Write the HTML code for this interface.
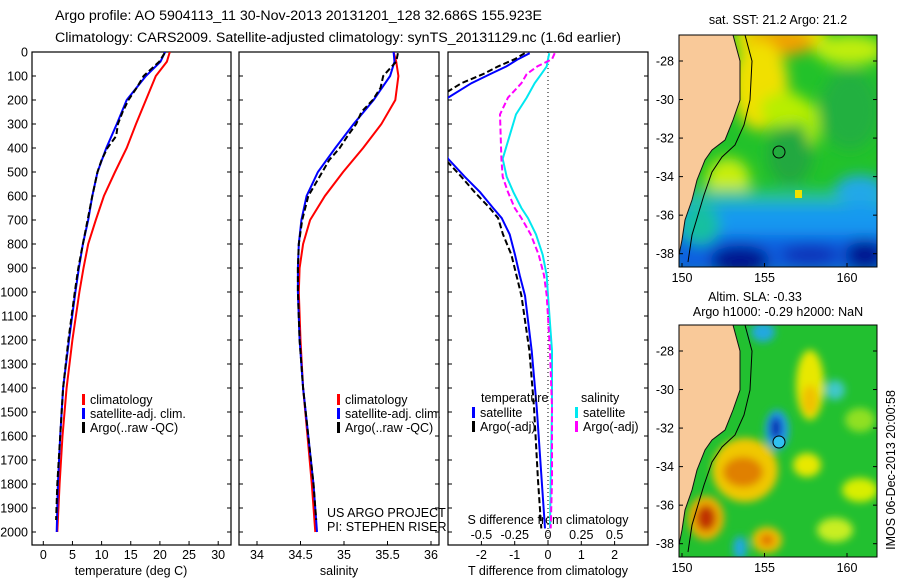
<!DOCTYPE html>
<html><head><meta charset="utf-8">
<style>
html,body{margin:0;padding:0;background:#fff;}
body{width:900px;height:580px;overflow:hidden;font-family:"Liberation Sans",sans-serif;}
svg text{font-family:"Liberation Sans",sans-serif;font-size:12.5px;fill:#000;}
svg text.ttl{font-size:14.2px;}
</style></head>
<body>
<svg id="fig" width="900" height="580" viewBox="0 0 900 580" xmlns="http://www.w3.org/2000/svg">
<defs>
<clipPath id="cp1"><rect x="32" y="52" width="199" height="493"/></clipPath>
<clipPath id="cp2"><rect x="239" y="52" width="200" height="493"/></clipPath>
<clipPath id="cp3"><rect x="448" y="52" width="200" height="493"/></clipPath>
<clipPath id="cmTop"><rect x="679" y="35" width="198" height="232"/></clipPath>
<clipPath id="cmBot"><rect x="679" y="325" width="198" height="232"/></clipPath>
<filter id="bl" x="-50%" y="-50%" width="200%" height="200%"><feGaussianBlur stdDeviation="7"/></filter>
<filter id="bl2" x="-50%" y="-50%" width="200%" height="200%"><feGaussianBlur stdDeviation="4"/></filter>
</defs>
<text class="ttl" x="55" y="20">Argo profile: AO 5904113_11 30-Nov-2013 20131201_128 32.686S 155.923E</text>
<text class="ttl" x="55" y="42">Climatology: CARS2009. Satellite-adjusted climatology: synTS_20131129.nc (1.6d earlier)</text>

<!-- SST map -->
<g>
<g clip-path="url(#cmTop)">
<rect x="679" y="35" width="198" height="232" fill="#22c22a"/>
<g filter="url(#bl)">
<rect x="735" y="25" width="90" height="25" fill="#e8e800"/>
<ellipse cx="850" cy="50" rx="35" ry="15" fill="#c0ee10"/>
<ellipse cx="780" cy="42" rx="35" ry="14" fill="#f0a000"/>
<ellipse cx="760" cy="85" rx="28" ry="45" fill="#f0e000"/>
<ellipse cx="785" cy="110" rx="25" ry="18" fill="#b8ee00"/>
<ellipse cx="812" cy="125" rx="7" ry="22" fill="#b8ee00"/>
<ellipse cx="728" cy="180" rx="22" ry="22" fill="#c8ee10"/>
<ellipse cx="790" cy="155" rx="22" ry="30" fill="#20a840"/>
<ellipse cx="850" cy="110" rx="30" ry="40" fill="#20b040"/>
<rect x="670" y="190" width="230" height="20" fill="#28c0a0"/>
<rect x="670" y="205" width="230" height="35" fill="#1898f0"/>
<ellipse cx="860" cy="190" rx="25" ry="15" fill="#20a8e8"/>
<rect x="670" y="235" width="230" height="40" fill="#1060e0"/>
<ellipse cx="740" cy="260" rx="30" ry="15" fill="#001890"/>
<ellipse cx="810" cy="255" rx="30" ry="10" fill="#0830b8"/>
<ellipse cx="865" cy="255" rx="20" ry="15" fill="#001890"/>
<ellipse cx="700" cy="225" rx="20" ry="20" fill="#18c0a0"/>
</g>
<rect x="795" y="190" width="7" height="8" fill="#f0e000"/>
<polygon points="679,35 733,35 740,61 740,100 733,120 725,140 712,150 705,160 697,180 692,200 685,220 682,240 679,255" fill="#f9c999"/>
<polyline points="733,35 740,61 740,100 733,120 725,140 712,150 705,160 697,180 692,200 685,220 682,240 679,255" fill="none" stroke="#111" stroke-width="1"/>
<polyline points="745,35 752,61 750,100 744,125 735,145 722,157 712,172 704,195 698,215 692,235 688,262" fill="none" stroke="#000" stroke-width="1"/>
<circle cx="779" cy="152" r="6" fill="none" stroke="#000" stroke-width="1"/>
</g>
<rect x="679" y="35" width="198" height="232" fill="none" stroke="#000"/>
</g>

<!-- SLA map -->
<g>
<g clip-path="url(#cmBot)">
<rect x="679" y="325" width="198" height="232" fill="#22c030"/>
<g filter="url(#bl2)">
<ellipse cx="763" cy="332" rx="12" ry="10" fill="#20a8e0"/>
<ellipse cx="810" cy="385" rx="14" ry="35" fill="#e8e800"/>
<ellipse cx="810" cy="400" rx="8" ry="15" fill="#f0c000"/>
<ellipse cx="835" cy="390" rx="10" ry="10" fill="#40c8c8"/>
<ellipse cx="745" cy="470" rx="33" ry="32" fill="#f0c800"/>
<ellipse cx="743" cy="472" rx="20" ry="15" fill="#e08000"/>
<ellipse cx="777" cy="430" rx="12" ry="20" fill="#20a0f0"/>
<ellipse cx="776" cy="428" rx="6" ry="12" fill="#1028b0"/>
<ellipse cx="706" cy="518" rx="18" ry="22" fill="#f0b000"/>
<ellipse cx="706" cy="518" rx="10" ry="13" fill="#c03000"/>
<ellipse cx="767" cy="540" rx="15" ry="13" fill="#f0c000"/>
<ellipse cx="767" cy="540" rx="7" ry="6" fill="#e07000"/>
<ellipse cx="807" cy="465" rx="14" ry="12" fill="#e8e800"/>
<ellipse cx="860" cy="490" rx="18" ry="12" fill="#d8ee00"/>
<ellipse cx="835" cy="530" rx="18" ry="12" fill="#c8ee20"/>
<ellipse cx="740" cy="548" rx="7" ry="12" fill="#20a8e0"/>
<ellipse cx="860" cy="420" rx="15" ry="12" fill="#90e020"/>
</g>
<polygon points="679,325 733,325 740,351 740,390 733,410 725,430 712,440 705,450 697,470 692,490 685,510 682,530 679,545" fill="#f9c999"/>
<polyline points="733,325 740,351 740,390 733,410 725,430 712,440 705,450 697,470 692,490 685,510 682,530 679,545" fill="none" stroke="#111" stroke-width="1"/>
<polyline points="745,325 752,351 750,390 744,415 735,435 722,447 712,462 704,485 698,505 692,525 688,552" fill="none" stroke="#000" stroke-width="1"/>
<circle cx="779" cy="442" r="6" fill="#30c0f0" stroke="#000" stroke-width="1"/>
</g>
<rect x="679" y="325" width="198" height="232" fill="none" stroke="#000"/>
</g>
<text x="778" y="24" text-anchor="middle">sat. SST: 21.2 Argo: 21.2</text>
<text x="755" y="301" text-anchor="middle">Altim. SLA: -0.33</text>
<text x="778" y="316" text-anchor="middle">Argo h1000: -0.29 h2000: NaN</text>
<text transform="translate(895,470) rotate(-90)" text-anchor="middle">IMOS 06-Dec-2013 20:00:58</text>

<g id="charts"></g>
</svg>
<script>
// ---- data ----
var depthClim = [0,40,100,200,300,400,500,600,700,800,900,1000,1200,1400,1600,1800,2000];
var tempClim  = [21.7,21.2,19.3,17.6,15.9,14.3,12.3,10.4,9.0,7.7,6.9,6.2,5.0,4.0,3.3,2.8,2.4];
var tempSat   = [20.9,20.1,17.6,14.3,12.6,10.8,9.3,8.4,7.7,6.8,6.1,5.5,4.4,3.4,2.9,2.5,2.3];
var depthArgo = [5,40,100,150,200,250,300,350,400,450,500,600,700,800,900,1000,1200,1400,1600,1800,1950];
var tempArgo  = [20.8,19.9,17.2,16.0,14.6,13.6,12.8,12.5,11.0,10.0,9.3,8.4,7.6,6.8,6.0,5.4,4.3,3.4,2.9,2.4,2.2];
var salClim   = [35.57,35.60,35.625,35.59,35.43,35.22,34.99,34.78,34.61,34.53,34.49,34.48,34.50,34.53,34.58,34.63,34.67];
var salSat    = [35.57,35.58,35.53,35.34,35.11,34.90,34.70,34.57,34.51,34.48,34.47,34.47,34.49,34.53,34.59,34.65,34.69];
var salArgo   = [35.62,35.60,35.45,35.42,35.33,35.20,35.14,35.04,34.95,34.83,34.75,34.59,34.52,34.48,34.47,34.47,34.49,34.53,34.59,34.65,34.68];
var depthDiff = [5,30,60,92,130,190,260,445,520,584,650,692,760,845,930,1015,1245,1480,1785,1985];
var tDiffSat  = [-0.55,-0.9,-1.25,-1.74,-2.3,-3.0,-3.6,-3.0,-2.5,-2.04,-1.65,-1.39,-1.15,-0.99,-0.85,-0.69,-0.49,-0.34,-0.19,-0.09];
var tDiffArgo = [-0.7,-1.0,-1.5,-1.95,-2.6,-3.3,-3.7,-3.1,-2.6,-2.2,-1.75,-1.5,-1.35,-1.1,-0.95,-0.8,-0.56,-0.42,-0.3,-0.2];
var sDiffSat  = [0.01,0.0,-0.01,-0.05,-0.1,-0.16,-0.24,-0.34,-0.31,-0.26,-0.2,-0.15,-0.09,-0.04,-0.01,0.0,0.03,0.03,0.02,0.015];
var sDiffArgo = [0.05,0.03,-0.08,-0.16,-0.2,-0.3,-0.36,-0.35,-0.34,-0.3,-0.25,-0.2,-0.13,-0.07,-0.03,-0.01,0.015,0.03,0.03,0.02];
var depthTicks = [0,100,200,300,400,500,600,700,800,900,1000,1100,1200,1300,1400,1500,1600,1700,1800,1900,2000];
var tempTicks = [0,5,10,15,20,25,30];
var salTicks = ["34","34.5","35","35.5","36"];
var tDiffTicks = [-2,-1,0,1,2];
var sDiffTicks = ["-0.5","-0.25","0","0.25","0.5"];

// ---- scales ----
function yD(d){return 52 + d*0.24;}
function xT(t){return 43.3 + t*5.83;}
function xS(s){return 257 + (s-34)*87;}
function xTd(t){return 548 + t*33.3;}
function xSd(s){return 548 + s*133.2;}

var NS="http://www.w3.org/2000/svg";
var root=document.getElementById('charts');
function el(tag,attrs,parent){var e=document.createElementNS(NS,tag);for(var k in attrs)e.setAttribute(k,attrs[k]);(parent||root).appendChild(e);return e;}
function line(xs,ys,xf,color,dash,clip,name){
  var pts=[];for(var i=0;i<xs.length;i++)pts.push(xf(xs[i]).toFixed(1)+","+yD(ys[i]).toFixed(1));
  var p=el('polyline',{points:pts.join(' '),fill:'none',stroke:color,'stroke-width':2,'clip-path':'url(#'+clip+')'});
  if(dash)p.setAttribute('stroke-dasharray',dash);
  
  
}
function txt(x,y,s,anchor,name){var t=el('text',{x:x,y:y,'text-anchor':anchor||'start'});t.textContent=s;
  
  
  return t;}

// frames
var frames=[[32,231,'temperature-panel-frame'],[239,439,'salinity-panel-frame'],[448,648,'difference-panel-frame']];
frames.forEach(function(f){
  var r=el('rect',{x:f[0],y:52,width:f[1]-f[0],height:493,fill:'none',stroke:'#000','stroke-width':1.2});
  
  
  depthTicks.forEach(function(d){
    var tk=el('line',{x1:f[0],x2:f[0]+4,y1:yD(d),y2:yD(d),stroke:'#000'});
    
    
    var tk2=el('line',{x1:f[1],x2:f[1]-4,y1:yD(d),y2:yD(d),stroke:'#000'});
    
    
  });
});
depthTicks.forEach(function(d){txt(28,yD(d)+4.5,String(d),'end','depth-tick-label');});

// temperature panel
tempTicks.forEach(function(t){
  var tk=el('line',{x1:xT(t),x2:xT(t),y1:545,y2:541,stroke:'#000'});
  
  
  txt(xT(t),559,String(t),'middle','temperature-tick-label');
});
txt(131,575,'temperature (deg C)','middle','temperature-axis-title');
line(tempClim,depthClim,xT,'#ff0000',null,'cp1','temperature-climatology-line');
line(tempSat,depthClim,xT,'#0000ff',null,'cp1','temperature-satellite-line');
line(tempArgo,depthArgo,xT,'#000000','6,3','cp1','temperature-argo-line');

// salinity panel
salTicks.forEach(function(s){
  var v=parseFloat(s);
  var tk=el('line',{x1:xS(v),x2:xS(v),y1:545,y2:541,stroke:'#000'});
  
  
  txt(xS(v),559,s,'middle','salinity-tick-label');
});
txt(339,575,'salinity','middle','salinity-axis-title');
line(salClim,depthClim,xS,'#ff0000',null,'cp2','salinity-climatology-line');
line(salSat,depthClim,xS,'#0000ff',null,'cp2','salinity-satellite-line');
line(salArgo,depthArgo,xS,'#000000','6,3','cp2','salinity-argo-line');

// difference panel
var z=el('line',{x1:548,x2:548,y1:52,y2:545,stroke:'#000','stroke-dasharray':'1,3'});


tDiffTicks.forEach(function(t){
  var tk=el('line',{x1:xTd(t),x2:xTd(t),y1:545,y2:541,stroke:'#000'});
  
  
  txt(xTd(t),559,String(t),'middle','t-diff-tick-label');
});
sDiffTicks.forEach(function(s){txt(xSd(parseFloat(s)),539,s,'middle','s-diff-tick-label');});
txt(548,524,'S difference from climatology','middle','s-diff-axis-title');
txt(548,575,'T difference from climatology','middle','t-diff-axis-title');
line(tDiffSat,depthDiff,xTd,'#0000ff',null,'cp3','t-diff-satellite-line');
line(tDiffArgo,depthDiff,xTd,'#000000','6,3','cp3','t-diff-argo-line');
line(sDiffSat,depthDiff,xSd,'#00e8f0',null,'cp3','s-diff-satellite-line');
line(sDiffArgo,depthDiff,xSd,'#ff00ff','6,3','cp3','s-diff-argo-line');

// legends
function leg(x,y,color,label,name){
  var m=el('rect',{x:x,y:y-9,width:3,height:11,fill:color});
  
  
  txt(x+8,y+1,label,'start',name);
}
leg(82,403,'#ff0000','climatology','legend-climatology');
leg(82,417,'#0000ff','satellite-adj. clim.','legend-satellite');
leg(82,431,'#000000','Argo(..raw -QC)','legend-argo');
leg(337,403,'#ff0000','climatology','legend-sal-climatology');
leg(337,417,'#0000ff','satellite-adj. clim.','legend-sal-satellite');
leg(337,431,'#000000','Argo(..raw -QC)','legend-sal-argo');
txt(481,402,'temperature','start','legend-temperature-header');
txt(581,402,'salinity','start','legend-salinity-header');
leg(472,416,'#0000ff','satellite','legend-t-satellite');
leg(472,430,'#000000','Argo(-adj)','legend-t-argo');
leg(575,416,'#00e8f0','satellite','legend-s-satellite');
leg(575,430,'#ff00ff','Argo(-adj)','legend-s-argo');
txt(327,517,'US ARGO PROJECT','start','project-label');
txt(327,531,'PI: STEPHEN RISER','start','pi-label');

// map axes
function mapAxes(top,bot,pre){
  [150,155,160].forEach(function(l){
    var x=682+(l-150)*16.5;
    var a=el('line',{x1:x,x2:x,y1:bot,y2:bot-4,stroke:'#000'});
    
    
    txt(x,bot+15,String(l),'middle',pre+'-lon-label');
  });
  [-28,-30,-32,-34,-36,-38].forEach(function(l){
    var y=top+26+(-28-l)*19.27;
    var a=el('line',{x1:679,x2:683,y1:y,y2:y,stroke:'#000'});
    
    
    var b=el('line',{x1:877,x2:873,y1:y,y2:y,stroke:'#000'});
    
    
    txt(674,y+4.5,String(l),'end',pre+'-lat-label');
  });
}
mapAxes(35,267,'sst-map');
mapAxes(325,557,'sla-map');
</script>
</body></html>
